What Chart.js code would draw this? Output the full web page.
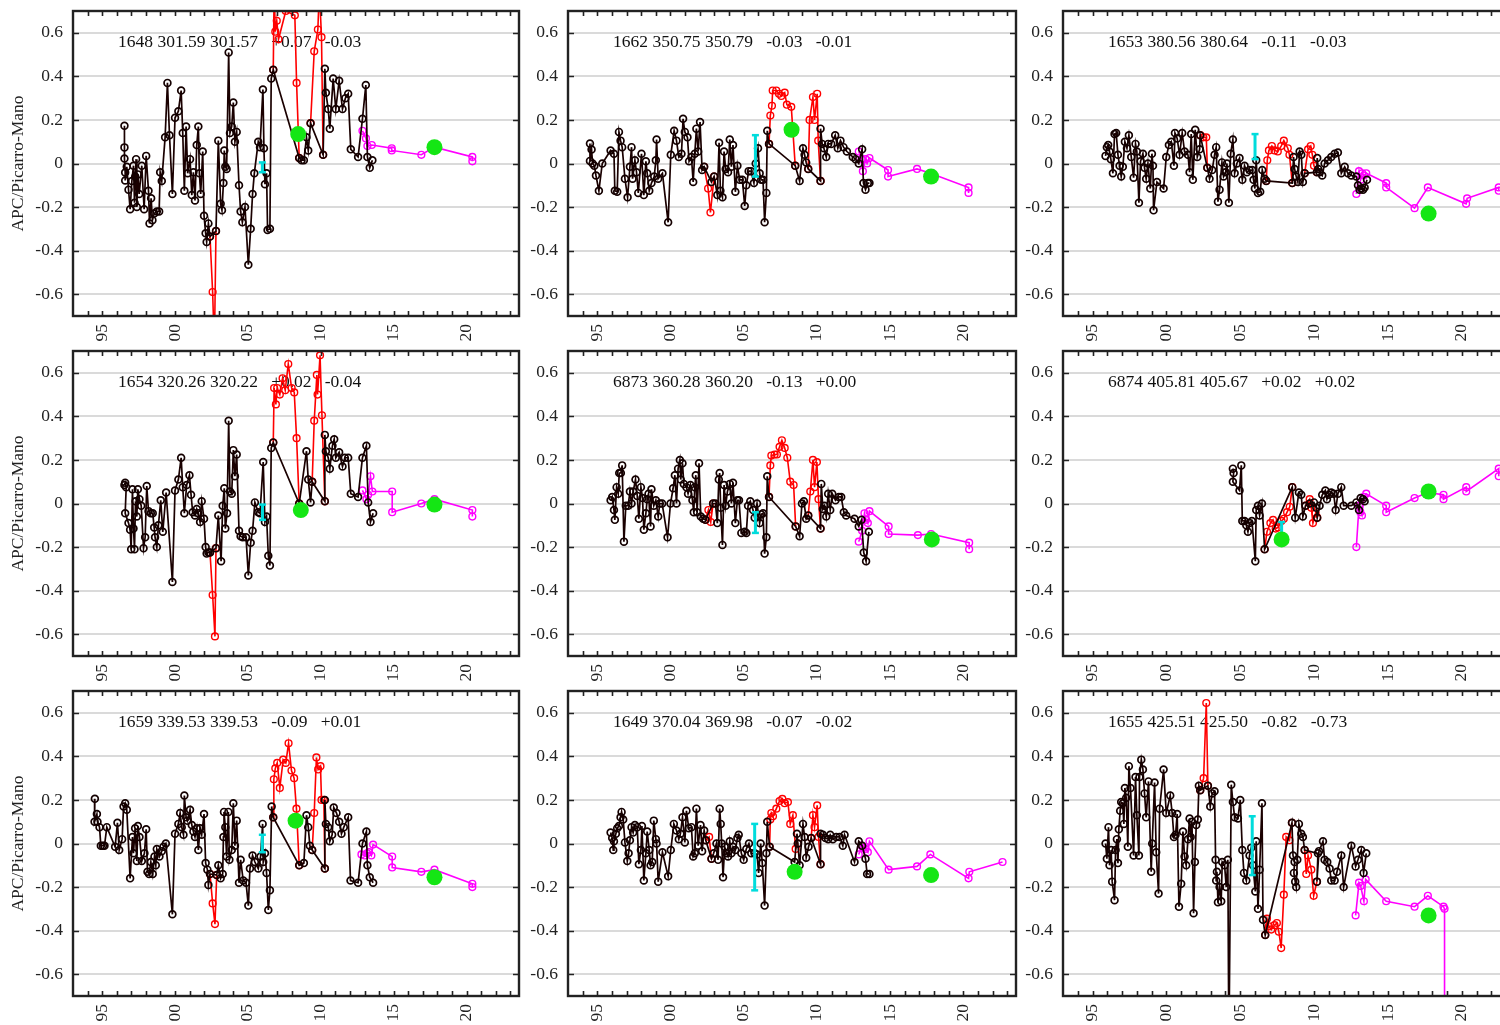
<!DOCTYPE html>
<html>
<head>
<meta charset="utf-8">
<script src="https://cdn.jsdelivr.net/npm/chart.js@4.4.1/dist/chart.umd.min.js"></script>
<style>
  html, body { margin: 0; padding: 0; background: #fff; width: 1500px; height: 1025px; overflow: hidden; position: relative; }
  canvas { position: absolute; }
</style>
</head>
<body>
<script>
// Ejes comunes a los nueve paneles
const xLabelYears = [1995, 2000, 2005, 2010, 2015, 2020];
const yTicks = [-0.6, -0.4, -0.2, 0, 0.2, 0.4, 0.6];
const yTitle = 'APC/Picarro-Mano';

/* 1648 */
const lbl1648 = '1648 301.59 301.57   +0.07   -0.03';
const blk1648 = [[1996.53,0.173],[1996.53,0.074],[1996.53,0.023],[1996.58,-0.041],[1996.58,-0.078],[1996.69,-0.015],[1996.81,-0.12],[1996.92,-0.21],[1997.04,-0.08],[1997.15,-0.01],[1997.22,-0.18],[1997.27,-0.06],[1997.33,0.02],[1997.38,-0.2],[1997.45,-0.05],[1997.54,-0.14],[1997.72,-0.01],[1997.88,-0.21],[1998.02,0.035],[1998.18,-0.125],[1998.25,-0.275],[1998.36,-0.16],[1998.45,-0.26],[1998.57,-0.23],[1998.75,-0.22],[1998.91,-0.22],[1998.98,-0.04],[1999.09,-0.08],[1999.32,0.12],[1999.48,0.37],[1999.62,0.13],[1999.82,-0.14],[2000.0,0.21],[2000.23,0.24],[2000.42,0.335],[2000.53,0.14],[2000.64,-0.125],[2000.76,0.17],[2000.87,-0.045],[2001.03,0.02],[2001.15,-0.145],[2001.26,-0.04],[2001.37,-0.17],[2001.49,0.085],[2001.6,0.17],[2001.67,-0.045],[2001.76,-0.14],[2001.9,0.055],[2001.99,-0.24],[2002.1,-0.32],[2002.17,-0.36],[2002.29,-0.275],[2002.4,-0.335],[2002.81,-0.31],[2002.97,0.105],[2003.13,-0.185],[2003.22,-0.215],[2003.32,-0.09],[2003.38,0.06],[2003.45,-0.015],[2003.54,-0.025],[2003.68,0.51],[2003.77,0.14],[2003.89,0.17],[2004.0,0.28],[2004.11,0.1],[2004.23,0.145],[2004.39,-0.1],[2004.5,-0.22],[2004.62,-0.27],[2004.8,-0.2],[2005.03,-0.465],[2005.19,-0.3],[2005.32,-0.14],[2005.44,-0.045],[2005.71,0.1],[2005.83,0.075],[2006.03,0.34],[2006.1,0.07],[2006.17,-0.095],[2006.28,-0.045],[2006.35,-0.305],[2006.51,-0.3],[2006.6,0.39],[2006.74,0.43],[2008.52,0.025],[2008.68,0.015],[2008.84,0.015],[2009.02,0.12],[2009.14,0.06],[2009.3,0.185],[2010.16,0.04],[2010.28,0.435],[2010.35,0.325],[2010.51,0.25],[2010.62,0.16],[2010.85,0.39],[2011.03,0.25],[2011.26,0.38],[2011.49,0.25],[2011.69,0.3],[2011.88,0.32],[2012.06,0.065],[2012.56,0.03],[2012.86,0.205],[2013.09,0.36],[2013.2,0.03],[2013.36,-0.02],[2013.54,0.015]];
const red1648 = [[2002.4,-0.335],[2002.58,-0.59],[2002.7,-0.85],[2002.81,-0.31],null,[2006.74,0.43],[2006.8,0.8],[2006.88,0.605],[2006.98,0.655],[2007.1,0.57],[2007.6,0.7],[2008.22,0.68],[2008.34,0.37],[2008.52,0.025],null,[2009.3,0.185],[2009.55,0.515],[2009.8,0.615],[2009.9,0.8],[2010.05,0.58],[2010.16,0.04]];
const mag1648 = [[2012.86,0.15],[2013.1,0.115],[2013.2,0.08],[2013.5,0.085],[2014.87,0.07],[2014.87,0.06],[2016.9,0.04],[2017.8,0.075],[2020.4,0.03],[2020.4,0.01]];
const grn1648 = [[2008.45,0.135],[2017.8,0.075]];
const err1648 = [2005.99, -0.04, 0.005];

/* 1654 */
const lbl1654 = '1654 320.26 320.22   +0.02   -0.04';
const blk1654 = [[1996.53,0.085],[1996.58,0.095],[1996.65,0.075],[1996.58,-0.045],[1996.81,-0.09],[1996.92,-0.12],[1996.99,-0.21],[1997.08,0.065],[1997.15,-0.115],[1997.22,-0.21],[1997.29,0.01],[1997.38,-0.06],[1997.45,0.065],[1997.56,0.02],[1997.68,-0.01],[1997.84,-0.205],[1997.95,-0.155],[1998.06,0.08],[1998.18,-0.035],[1998.34,-0.045],[1998.47,-0.045],[1998.57,-0.11],[1998.63,-0.155],[1998.75,-0.2],[1998.86,-0.1],[1999.02,0.015],[1999.16,-0.13],[1999.39,0.05],[1999.82,-0.36],[2000.0,0.06],[2000.23,0.11],[2000.42,0.21],[2000.53,0.075],[2000.64,-0.045],[2000.8,0.085],[2000.99,0.13],[2001.1,0.04],[2001.21,-0.04],[2001.37,-0.055],[2001.49,-0.025],[2001.6,-0.045],[2001.72,-0.085],[2001.83,0.01],[2001.99,-0.07],[2002.1,-0.2],[2002.17,-0.23],[2002.29,-0.225],[2002.4,-0.225],[2002.81,-0.205],[2002.97,-0.055],[2003.16,-0.265],[2003.27,-0.01],[2003.38,0.07],[2003.45,-0.115],[2003.57,-0.045],[2003.68,0.38],[2003.77,0.055],[2003.89,0.045],[2004.0,0.245],[2004.11,0.125],[2004.23,0.225],[2004.39,-0.125],[2004.5,-0.15],[2004.64,-0.155],[2004.87,-0.155],[2005.03,-0.33],[2005.19,-0.18],[2005.32,-0.125],[2005.48,0.005],[2005.71,-0.04],[2005.83,-0.045],[2006.05,0.19],[2006.17,-0.085],[2006.28,-0.06],[2006.4,-0.24],[2006.51,-0.285],[2006.6,0.255],[2006.74,0.28],[2008.52,0.0],[2009.02,0.24],[2009.14,0.11],[2009.3,0.005],[2009.41,0.1],[2010.28,0.01],[2010.28,0.315],[2010.35,0.24],[2010.51,0.21],[2010.62,0.16],[2010.8,0.265],[2010.92,0.295],[2011.03,0.21],[2011.26,0.235],[2011.49,0.17],[2011.65,0.21],[2011.88,0.21],[2012.06,0.045],[2012.56,0.03],[2012.86,0.21],[2013.13,0.265],[2013.25,0.005],[2013.41,-0.085],[2013.59,-0.045]];
const red1654 = [[2002.4,-0.225],[2002.58,-0.42],[2002.74,-0.61],[2002.81,-0.205],null,[2006.74,0.28],[2006.8,0.53],[2006.92,0.455],[2007.01,0.53],[2007.19,0.5],[2007.38,0.575],[2007.56,0.52],[2007.77,0.64],[2008.0,0.53],[2008.18,0.51],[2008.34,0.3],[2008.52,0.0],null,[2009.41,0.1],[2009.55,0.38],[2009.73,0.59],[2009.78,0.5],[2009.95,0.68],[2010.08,0.405],[2010.28,0.01]];
const mag1654 = [[2012.86,0.06],[2013.13,0.02],[2013.25,0.04],[2013.41,0.125],[2013.54,0.055],[2014.9,0.055],[2014.9,-0.04],[2016.9,0.0],[2017.8,0.02],[2020.4,-0.03],[2020.4,-0.06]];
const grn1654 = [[2008.63,-0.03],[2017.8,-0.005]];
const err1654 = [2006.0, -0.075, -0.005];

/* 1659 */
const lbl1659 = '1659 339.53 339.53   -0.09   +0.01';
const blk1659 = [[1994.5,0.205],[1994.48,0.1],[1994.64,0.135],[1994.68,0.1],[1994.82,0.075],[1994.91,-0.01],[1995.05,-0.01],[1995.16,-0.01],[1995.32,0.075],[1995.89,-0.015],[1996.05,0.095],[1996.17,-0.03],[1996.37,0.02],[1996.47,0.17],[1996.58,0.185],[1996.69,0.155],[1996.92,-0.16],[1997.08,0.03],[1997.15,-0.045],[1997.26,0.07],[1997.38,-0.08],[1997.45,0.08],[1997.56,0.03],[1997.72,-0.08],[1997.9,-0.045],[1998.02,0.065],[1998.11,-0.13],[1998.22,-0.14],[1998.34,-0.085],[1998.47,-0.14],[1998.59,-0.06],[1998.68,-0.1],[1998.75,-0.025],[1998.93,-0.06],[1999.09,-0.035],[1999.21,-0.015],[1999.37,0],[1999.82,-0.325],[2000.0,0.045],[2000.23,0.09],[2000.35,0.14],[2000.46,0.075],[2000.58,0.04],[2000.64,0.22],[2000.76,0.12],[2000.85,0.105],[2001.03,0.155],[2001.15,0.085],[2001.26,0.055],[2001.37,0.03],[2001.49,0.07],[2001.6,-0.03],[2001.72,0.07],[2001.83,0.04],[2001.99,0.135],[2002.1,-0.09],[2002.22,-0.12],[2002.29,-0.19],[2002.4,-0.14],[2002.86,-0.145],[2002.97,-0.1],[2003.13,-0.16],[2003.27,-0.14],[2003.32,0.03],[2003.36,0.145],[2003.45,0.075],[2003.54,-0.06],[2003.66,0.145],[2003.73,-0.075],[2003.89,-0.03],[2004.0,0.185],[2004.11,-0.01],[2004.23,0.105],[2004.39,-0.18],[2004.5,-0.075],[2004.68,-0.17],[2004.87,-0.18],[2005.03,-0.285],[2005.14,-0.115],[2005.32,-0.055],[2005.48,-0.085],[2005.71,-0.115],[2005.87,-0.06],[2006.01,0.09],[2006.05,-0.085],[2006.17,-0.045],[2006.28,-0.135],[2006.4,-0.305],[2006.51,-0.215],[2006.63,0.17],[2006.74,0.12],[2008.52,-0.1],[2008.84,-0.09],[2009.02,0.13],[2009.14,0.075],[2009.25,-0.01],[2009.41,-0.03],[2010.28,-0.115],[2010.28,0.2],[2010.35,0.09],[2010.51,0.075],[2010.62,0.01],[2010.78,0.04],[2010.89,0.165],[2011.08,0.14],[2011.26,0.1],[2011.42,0.045],[2011.58,0.075],[2011.88,0.12],[2012.04,-0.17],[2012.56,-0.18],[2012.86,0],[2013.13,0.055],[2013.2,-0.1],[2013.36,-0.155],[2013.59,-0.18]];
const red1659 = [[2002.4,-0.14],[2002.58,-0.275],[2002.74,-0.37],[2002.86,-0.145],null,[2006.74,0.12],[2006.78,0.295],[2006.88,0.345],[2007.01,0.37],[2007.19,0.255],[2007.42,0.385],[2007.6,0.37],[2007.79,0.46],[2007.99,0.335],[2008.17,0.3],[2008.33,0.16],[2008.52,-0.1],null,[2009.41,-0.03],[2009.55,0.14],[2009.7,0.395],[2009.82,0.34],[2009.98,0.355],[2010.05,0.2],[2010.21,0.2],[2010.28,-0.115]];
const mag1659 = [[2012.79,-0.05],[2013.02,-0.055],[2013.18,-0.045],[2013.31,-0.04],[2013.47,-0.055],[2013.59,-0.005],[2014.9,-0.06],[2014.9,-0.11],[2016.9,-0.13],[2017.8,-0.12],[2020.4,-0.185],[2020.4,-0.2]];
const grn1659 = [[2008.27,0.105],[2017.8,-0.155]];
const err1659 = [2005.99, -0.04, 0.04];

/* 1662 */
const lbl1662 = '1662 350.75 350.79   -0.03   -0.01';
const blk1662 = [[1994.5,0.092],[1994.5,0.012],[1994.61,0.064],[1994.68,0],[1994.8,-0.01],[1994.91,-0.055],[1995.11,-0.125],[1995.34,0],[1995.91,0.06],[1996.14,0.045],[1996.2,-0.125],[1996.36,-0.13],[1996.48,0.145],[1996.59,0.105],[1996.7,0.075],[1996.89,-0.07],[1997.07,-0.155],[1997.23,-0.015],[1997.34,0.075],[1997.41,-0.07],[1997.57,0.015],[1997.68,-0.04],[1997.8,-0.135],[1998.02,0.045],[1998.18,-0.145],[1998.32,0.01],[1998.41,-0.045],[1998.55,-0.125],[1998.7,-0.09],[1998.89,-0.06],[1999.0,0.015],[1999.05,0.11],[1999.16,-0.07],[1999.45,-0.045],[1999.84,-0.27],[2000.02,0.04],[2000.25,0.15],[2000.41,0.105],[2000.57,0.03],[2000.75,0.045],[2000.86,0.205],[2000.98,0.145],[2001.16,0.12],[2001.27,0.01],[2001.43,0.03],[2001.55,-0.085],[2001.66,0.045],[2001.77,0.16],[2001.89,0.055],[2002.02,0.19],[2002.16,-0.03],[2002.3,-0.015],[2002.8,-0.085],[2002.98,-0.06],[2003.2,-0.145],[2003.32,0.095],[2003.41,-0.125],[2003.55,-0.155],[2003.66,0.055],[2003.77,-0.025],[2003.93,-0.04],[2004.05,0.11],[2004.16,-0.015],[2004.27,0.085],[2004.43,-0.13],[2004.57,-0.01],[2004.73,-0.075],[2004.91,-0.075],[2005.07,-0.195],[2005.18,-0.1],[2005.34,-0.035],[2005.5,-0.035],[2005.7,-0.09],[2005.82,0],[2005.98,0.07],[2006.09,-0.045],[2006.2,-0.075],[2006.32,-0.075],[2006.43,-0.27],[2006.55,-0.135],[2006.61,0.15],[2006.73,0.09],[2008.52,-0.01],[2008.82,-0.08],[2009.05,0.07],[2009.16,0.04],[2009.27,0.005],[2009.41,-0.025],[2010.25,-0.08],[2010.25,0.16],[2010.36,0.09],[2010.48,0.07],[2010.64,0.03],[2010.77,0.09],[2010.98,0.09],[2011.25,0.13],[2011.43,0.07],[2011.61,0.105],[2011.82,0.075],[2012.05,0.055],[2012.45,0.03],[2012.64,0.02],[2012.86,0],[2013.09,0.065],[2013.18,-0.09],[2013.32,-0.12],[2013.48,-0.09],[2013.59,-0.09]];
const red1662 = [[2002.3,-0.015],[2002.57,-0.115],[2002.73,-0.225],[2002.98,-0.06],null,[2006.73,0.09],[2006.82,0.22],[2006.93,0.265],[2006.98,0.335],[2007.23,0.335],[2007.41,0.32],[2007.57,0.31],[2007.8,0.325],[2007.95,0.27],[2008.25,0.26],[2008.52,-0.01],null,[2009.41,-0.025],[2009.5,0.2],[2009.73,0.305],[2009.84,0.2],[2010.02,0.32],[2010.09,0.105],[2010.25,-0.08]];
const mag1662 = [[2012.86,0.055],[2013.05,0.02],[2013.14,-0.035],[2013.32,0.02],[2013.43,0.0],[2013.59,0.025],[2014.86,-0.03],[2014.86,-0.06],[2016.84,-0.025],[2017.75,-0.045],[2020.36,-0.11],[2020.36,-0.135]];
const grn1662 = [[2008.27,0.155],[2017.8,-0.06]];
const err1662 = [2005.8, -0.06, 0.13];

/* 6873 */
const lbl6873 = '6873 360.28 360.20   -0.13   +0.00';
const blk6873 = [[1995.91,0.015],[1996.02,0.03],[1996.14,-0.03],[1996.2,-0.075],[1996.32,0.075],[1996.43,0.045],[1996.5,0.14],[1996.61,0.14],[1996.7,0.175],[1996.82,-0.175],[1996.95,-0.01],[1997.11,-0.01],[1997.23,0.055],[1997.34,0],[1997.45,0.055],[1997.61,0.11],[1997.73,0.035],[1997.84,-0.07],[1997.98,0.075],[1998.09,0.025],[1998.18,-0.12],[1998.32,-0.045],[1998.41,0.02],[1998.5,0.045],[1998.64,-0.105],[1998.7,0.065],[1998.86,-0.01],[1999.0,0.015],[1999.16,-0.06],[1999.27,0],[1999.43,0],[1999.8,-0.155],[2000.0,0],[2000.18,0.07],[2000.3,0.13],[2000.41,0],[2000.52,0.16],[2000.64,0.2],[2000.7,0.11],[2000.82,0.185],[2000.91,0.09],[2001.09,0.075],[2001.2,0.045],[2001.36,0.085],[2001.5,0.015],[2001.59,-0.04],[2001.66,0.075],[2001.73,0.13],[2001.82,-0.04],[2001.95,0.185],[2002.07,-0.06],[2002.23,-0.07],[2002.39,-0.075],[2002.91,0],[2003.07,0],[2003.2,-0.09],[2003.3,0.11],[2003.36,0.14],[2003.43,-0.02],[2003.55,-0.19],[2003.66,0.085],[2003.77,-0.01],[2003.89,0.055],[2004.05,0.09],[2004.16,0],[2004.27,0.095],[2004.43,-0.09],[2004.57,0.015],[2004.68,0.015],[2004.84,-0.135],[2005.07,-0.13],[2005.18,-0.135],[2005.3,-0.01],[2005.45,0.01],[2005.64,-0.03],[2005.75,-0.065],[2005.91,0],[2006.09,-0.09],[2006.2,-0.05],[2006.32,-0.045],[2006.43,-0.23],[2006.55,-0.155],[2006.61,0.125],[2006.73,0.03],[2008.55,-0.105],[2008.82,-0.15],[2008.98,0],[2009.11,0.01],[2009.27,-0.07],[2009.41,-0.055],[2010.25,-0.115],[2010.3,0.09],[2010.41,-0.025],[2010.52,-0.01],[2010.64,-0.06],[2010.77,0.045],[2010.91,-0.03],[2011.05,0.045],[2011.27,0.015],[2011.5,0.03],[2011.66,0.03],[2011.84,-0.04],[2012.0,-0.055],[2012.57,-0.07],[2012.86,-0.105],[2013.05,-0.075],[2013.2,-0.225],[2013.36,-0.265],[2013.55,-0.13]];
const red6873 = [[2002.39,-0.075],[2002.59,-0.03],[2002.75,-0.085],[2002.91,0],null,[2006.73,0.03],[2006.82,0.175],[2006.89,0.22],[2007.11,0.225],[2007.27,0.225],[2007.45,0.26],[2007.61,0.29],[2007.8,0.255],[2007.98,0.21],[2008.18,0.1],[2008.41,0.085],[2008.55,-0.105],null,[2009.41,-0.055],[2009.55,0.055],[2009.73,0.2],[2009.84,0.075],[2010.0,0.19],[2010.11,0.02],[2010.25,-0.115]];
const mag6873 = [[2012.86,-0.175],[2013.09,-0.125],[2013.25,-0.045],[2013.36,-0.075],[2013.48,-0.09],[2013.59,-0.035],[2014.9,-0.105],[2014.9,-0.14],[2016.9,-0.145],[2017.8,-0.14],[2020.4,-0.18],[2020.4,-0.21]];
const grn6873 = [[2017.85,-0.165]];
const err6873 = [2005.8, -0.135, -0.04];

/* 1649 */
const lbl1649 = '1649 370.04 369.98   -0.07   -0.02';
const blk1649 = [[1995.91,0.05],[1996.02,0.025],[1996.09,-0.03],[1996.14,0.01],[1996.27,0.045],[1996.36,0.07],[1996.48,0.08],[1996.59,0.12],[1996.66,0.145],[1996.77,0.11],[1996.89,0.005],[1997.05,-0.08],[1997.14,-0.045],[1997.23,0.015],[1997.34,0.075],[1997.45,0.05],[1997.57,0.085],[1997.73,0.075],[1997.84,-0.095],[1997.98,-0.03],[1998.05,0.08],[1998.18,-0.17],[1998.32,-0.045],[1998.41,0.055],[1998.55,-0.03],[1998.64,-0.1],[1998.75,-0.085],[1998.86,0.105],[1999.0,0.02],[1999.05,0],[1999.16,-0.175],[1999.45,-0.04],[1999.84,-0.15],[2000.02,-0.03],[2000.23,0.09],[2000.41,0.06],[2000.57,0.02],[2000.68,0.045],[2000.82,0.12],[2000.98,0.005],[2001.09,0.15],[2001.25,0.07],[2001.43,0.075],[2001.55,-0.06],[2001.66,-0.045],[2001.77,0.16],[2001.89,-0.01],[2002.05,0.085],[2002.16,-0.035],[2002.3,0.06],[2002.41,0.015],[2002.8,-0.07],[2002.95,-0.045],[2003.14,0],[2003.25,-0.075],[2003.36,0.16],[2003.43,0.09],[2003.5,0],[2003.59,-0.155],[2003.7,-0.015],[2003.82,-0.045],[2003.93,-0.06],[2004.05,0.01],[2004.16,-0.045],[2004.27,-0.015],[2004.43,-0.03],[2004.57,0.025],[2004.66,0.04],[2004.84,-0.045],[2005.0,-0.075],[2005.18,-0.025],[2005.36,0],[2005.52,-0.045],[2005.75,-0.045],[2005.91,-0.05],[2006.02,-0.135],[2006.16,0],[2006.27,-0.09],[2006.43,-0.285],[2006.55,-0.045],[2006.61,0.1],[2006.77,-0.015],[2008.48,-0.085],[2008.64,0.045],[2008.7,0],[2008.82,-0.1],[2009.05,0.09],[2009.16,0.03],[2009.27,-0.065],[2009.43,-0.015],[2009.61,0.025],[2010.25,-0.095],[2010.25,0.045],[2010.41,0.04],[2010.59,0.025],[2010.77,0.02],[2010.91,0.04],[2011.09,0.02],[2011.32,0.03],[2011.55,0.03],[2011.77,-0.01],[2011.89,0.04],[2012.57,-0.085],[2012.86,0.01],[2013.09,-0.01],[2013.32,-0.07],[2013.43,-0.14],[2013.59,-0.14]];
const red1649 = [[2002.41,0.015],[2002.64,0.03],[2002.8,-0.07],null,[2006.77,-0.015],[2006.82,0.11],[2006.89,0.14],[2007.0,0.125],[2007.23,0.16],[2007.45,0.195],[2007.64,0.205],[2007.8,0.185],[2008.02,0.19],[2008.18,0.09],[2008.36,0.13],[2008.55,-0.025],[2008.7,0],null,[2009.61,0.025],[2009.73,0.13],[2009.84,0.075],[2010.02,0.175],[2010.11,0.03],[2010.25,-0.095]];
const mag1649 = [[2012.86,-0.05],[2013.05,-0.01],[2013.18,-0.02],[2013.32,-0.025],[2013.48,-0.04],[2013.59,0.01],[2014.9,-0.12],[2016.84,-0.105],[2017.75,-0.05],[2020.36,-0.16],[2020.41,-0.13],[2022.68,-0.085]];
const grn1649 = [[2008.48,-0.13],[2017.8,-0.145]];
const err1649 = [2005.75, -0.215, 0.09];

/* 1653 */
const lbl1653 = '1653 380.56 380.64   -0.11   -0.03';
const blk1653 = [[1995.88,0.035],[1995.97,0.075],[1996.06,0.085],[1996.15,0.055],[1996.24,0.02],[1996.38,-0.045],[1996.49,0.135],[1996.6,0.14],[1996.72,0.04],[1996.83,-0.01],[1996.94,-0.06],[1997.05,-0.015],[1997.19,0.1],[1997.33,0.07],[1997.46,0.13],[1997.62,0.03],[1997.78,-0.065],[1997.91,0.09],[1998.0,0.055],[1998.14,-0.18],[1998.25,0.01],[1998.41,0.045],[1998.52,-0.02],[1998.63,-0.07],[1998.75,0],[1998.91,-0.115],[1999.02,0.045],[1999.09,-0.01],[1999.13,-0.215],[1999.36,-0.085],[1999.81,-0.115],[1999.99,0.03],[2000.17,0.085],[2000.33,0.1],[2000.51,-0.01],[2000.58,0.14],[2000.73,0.115],[2000.89,0.04],[2001.07,0.14],[2001.23,0.055],[2001.46,0.04],[2001.57,-0.04],[2001.68,0.135],[2001.79,-0.075],[2001.95,0.155],[2002.09,0.03],[2002.25,0.065],[2002.29,0.13],[2002.77,-0.02],[2002.92,-0.07],[2003.1,-0.03],[2003.26,0.04],[2003.37,0.075],[2003.49,-0.175],[2003.6,-0.12],[2003.76,0.005],[2003.87,-0.06],[2004.01,-0.04],[2004.1,0],[2004.23,-0.18],[2004.35,0.045],[2004.5,0.11],[2004.62,-0.045],[2004.77,0],[2004.95,0.025],[2005.14,-0.075],[2005.29,-0.01],[2005.45,-0.04],[2005.63,-0.03],[2005.81,-0.03],[2005.9,-0.075],[2005.99,-0.115],[2006.08,0.015],[2006.2,-0.135],[2006.35,-0.13],[2006.49,-0.03],[2006.65,-0.07],[2006.76,-0.08],[2008.52,-0.09],[2008.61,0.03],[2008.68,-0.025],[2008.79,-0.06],[2008.9,-0.085],[2009.02,0.055],[2009.13,0.04],[2009.24,-0.085],[2009.36,-0.045],[2010.19,-0.04],[2010.21,0.025],[2010.28,-0.025],[2010.37,-0.04],[2010.55,-0.055],[2010.71,0],[2010.94,0.015],[2011.16,0.03],[2011.39,0.045],[2011.61,0.05],[2011.84,-0.045],[2012.07,-0.015],[2012.29,-0.045],[2012.52,-0.055],[2012.86,-0.06],[2012.97,-0.1],[2013.08,-0.12],[2013.19,-0.115],[2013.31,-0.12],[2013.42,-0.11],[2013.58,-0.075]];
const red1653 = [[2002.29,0.13],[2002.5,0.12],[2002.7,0.12],[2002.77,-0.02],null,[2006.76,-0.08],[2006.83,0.015],[2006.94,0.06],[2007.14,0.08],[2007.32,0.06],[2007.54,0.055],[2007.77,0.08],[2007.95,0.105],[2008.22,0.07],[2008.33,0.04],[2008.52,-0.09],null,[2009.36,-0.045],[2009.59,0.065],[2009.77,0.08],[2009.88,0.04],[2009.99,-0.01],[2010.19,-0.04]];
const mag1653 = [[2012.86,-0.14],[2013.04,-0.035],[2013.15,-0.075],[2013.26,-0.045],[2013.37,-0.055],[2013.53,-0.045],[2014.88,-0.09],[2014.88,-0.11],[2016.8,-0.205],[2017.7,-0.11],[2020.29,-0.185],[2020.36,-0.16],[2022.5,-0.11],[2022.5,-0.125]];
const grn1653 = [[2017.75,-0.23]];
const err1653 = [2006.0, 0.02, 0.135];

/* 6874 */
const lbl6874 = '6874 405.81 405.67   +0.02   +0.02';
const blk6874 = [[2004.5,0.16],[2004.55,0.14],[2004.5,0.1],[2004.95,0.06],[2005.07,0.175],[2005.14,-0.08],[2005.29,-0.08],[2005.41,-0.1],[2005.52,-0.13],[2005.63,-0.09],[2005.79,-0.08],[2006.02,-0.265],[2006.08,-0.03],[2006.2,-0.01],[2006.31,-0.055],[2006.47,0],[2006.65,-0.21],[2008.52,0.075],[2008.72,-0.065],[2008.97,0.05],[2009.13,0.04],[2009.24,-0.06],[2009.42,-0.01],[2009.7,0],[2009.99,0.005],[2010.15,-0.02],[2010.21,-0.065],[2010.37,-0.01],[2010.55,0.04],[2010.76,0.06],[2010.87,0.02],[2011.0,0.04],[2011.16,0.05],[2011.32,0.045],[2011.46,-0.03],[2011.61,0.045],[2011.84,0.075],[2012.0,-0.01],[2012.52,-0.01],[2012.86,0.005],[2013.04,-0.03],[2013.15,0.025],[2013.31,0.02],[2013.42,0.01]];
const red6874 = [[2006.65,-0.21],[2006.81,-0.13],[2007.04,-0.09],[2007.22,-0.075],[2007.4,-0.115],[2007.56,-0.11],[2007.79,-0.08],[2007.95,-0.07],[2008.17,-0.04],[2008.35,-0.015],[2008.52,0.075],null,[2009.42,-0.01],[2009.7,0.02],[2009.81,-0.02],[2009.92,-0.09],[2010.1,-0.045],[2010.21,-0.065]];
const mag6874 = [[2012.86,-0.2],[2013.04,-0.01],[2013.13,-0.04],[2013.24,-0.055],[2013.37,0.03],[2013.53,0.045],[2014.88,-0.01],[2014.88,-0.04],[2016.8,0.025],[2017.7,0.05],[2018.76,0.04],[2018.76,0.02],[2020.3,0.075],[2020.3,0.055],[2022.5,0.16],[2022.5,0.125]];
const grn6874 = [[2007.8,-0.165],[2017.75,0.055]];
const err6874 = [2007.8, -0.19, -0.085];

/* 1655 */
const lbl1655 = '1655 425.51 425.50   -0.82   -0.73';
const blk1655 = [[1995.88,0],[1995.97,-0.07],[1996.08,0.075],[1996.15,-0.1],[1996.26,-0.03],[1996.33,-0.175],[1996.49,-0.26],[1996.56,-0.03],[1996.65,0.02],[1996.72,-0.09],[1996.78,0.065],[1996.87,0.15],[1996.94,0.19],[1997.05,0.185],[1997.12,0.09],[1997.19,0.255],[1997.28,0.21],[1997.39,-0.015],[1997.46,0.355],[1997.57,0.255],[1997.78,-0.055],[1997.91,0.305],[1998.0,0.13],[1998.14,-0.055],[1998.18,0.305],[1998.3,0.385],[1998.41,0.34],[1998.52,0.23],[1998.63,0.12],[1998.79,0.285],[1998.97,-0.13],[1999.04,0],[1999.2,0.28],[1999.31,-0.04],[1999.47,-0.23],[1999.54,0.16],[1999.81,0.34],[1999.99,0.14],[2000.26,0.22],[2000.39,0.14],[2000.51,0.03],[2000.62,0.04],[2000.73,0.135],[2000.85,-0.29],[2001.0,-0.185],[2001.12,0.055],[2001.23,-0.06],[2001.34,-0.1],[2001.46,0.02],[2001.57,0.115],[2001.64,0.03],[2001.73,0.1],[2001.84,-0.32],[2001.93,-0.085],[2002.02,0.085],[2002.13,0.11],[2002.2,0.265],[2002.29,0.245],[2002.81,0.265],[2002.97,0.17],[2003.1,0.23],[2003.26,0.24],[2003.33,-0.075],[2003.37,-0.17],[2003.42,-0.13],[2003.49,-0.27],[2003.6,-0.2],[2003.71,-0.265],[2003.78,-0.085],[2003.94,-0.1],[2004.05,-0.2],[2004.16,-0.075],[2004.23,-0.95],[2004.39,0.27],[2004.5,0.19],[2004.62,0.12],[2004.84,0.115],[2005.0,0.2],[2005.14,-0.03],[2005.25,-0.135],[2005.41,-0.17],[2005.63,-0.055],[2005.74,-0.02],[2005.86,-0.1],[2006.02,-0.22],[2006.08,0.01],[2006.2,-0.3],[2006.31,-0.12],[2006.47,0.185],[2006.54,-0.35],[2006.69,-0.42],[2008.5,0.095],[2008.57,-0.055],[2008.68,-0.085],[2008.63,-0.135],[2008.72,-0.175],[2008.79,-0.2],[2008.86,-0.075],[2008.97,0.09],[2009.13,0.045],[2009.24,0.03],[2009.36,-0.03],[2010.26,-0.045],[2010.19,-0.175],[2010.33,-0.035],[2010.6,0.01],[2010.71,-0.075],[2010.89,-0.085],[2011.05,-0.115],[2011.16,-0.17],[2011.39,-0.17],[2011.55,-0.13],[2011.84,-0.055],[2012.0,-0.2],[2012.52,-0.01],[2012.81,-0.105],[2012.97,-0.075],[2013.19,-0.03],[2013.35,-0.135],[2013.53,-0.045]];
const red1655 = [[2002.29,0.245],[2002.52,0.3],[2002.7,0.645],[2002.81,0.265],null,[2006.69,-0.42],[2006.81,-0.345],[2006.94,-0.38],[2007.1,-0.395],[2007.32,-0.375],[2007.48,-0.365],[2007.61,-0.405],[2007.77,-0.48],[2007.95,-0.235],[2008.11,0.03],[2008.33,0.015],[2008.5,0.095],null,[2009.36,-0.03],[2009.47,-0.14],[2009.59,-0.055],[2009.81,-0.12],[2009.97,-0.24],[2010.19,-0.175]];
const mag1655 = [[2012.81,-0.33],[2013.04,-0.18],[2013.15,-0.195],[2013.37,-0.265],[2013.49,-0.165],[2014.88,-0.265],[2016.8,-0.29],[2017.7,-0.24],[2018.76,-0.29],[2018.83,-0.3],[2018.83,-0.95]];
const grn1655 = [[2017.75,-0.33]];
const err1655 = [2005.81, -0.145, 0.125];

// Geometria de la rejilla 3x3 (orden por columnas, como en la figura)
const COL_X = [73, 568, 1063];
const COL_W = [446, 448, 452];
const ROW_Y = [11, 351, 691];
const PH = 305;
const Y_W = 73, TOP = 11, BOT = 34, RIGHT = 14;
const SERIF = 'Liberation Serif';
const FONT_PX = 17.5;

const panels = [
  { lbl: lbl1648, blk: blk1648, red: red1648, mag: mag1648, grn: grn1648, err: err1648 },
  { lbl: lbl1654, blk: blk1654, red: red1654, mag: mag1654, grn: grn1654, err: err1654 },
  { lbl: lbl1659, blk: blk1659, red: red1659, mag: mag1659, grn: grn1659, err: err1659 },
  { lbl: lbl1662, blk: blk1662, red: red1662, mag: mag1662, grn: grn1662, err: err1662 },
  { lbl: lbl6873, blk: blk6873, red: red6873, mag: mag6873, grn: grn6873, err: err6873 },
  { lbl: lbl1649, blk: blk1649, red: red1649, mag: mag1649, grn: grn1649, err: err1649 },
  { lbl: lbl1653, blk: blk1653, red: red1653, mag: mag1653, grn: grn1653, err: err1653 },
  { lbl: lbl6874, blk: blk6874, red: red6874, mag: mag6874, grn: grn6874, err: err6874 },
  { lbl: lbl1655, blk: blk1655, red: red1655, mag: mag1655, grn: grn1655, err: err1655 }
];

// Marcas menores del eje x: una por anio
const minorYears = [];
for (let y = 1994; y <= 2023; y++) minorYears.push(y);

// Convierte pares [x, y] en puntos; null corta la linea
function toPoints(arr) {
  return arr.map((p, i) => p ? { x: p[0], y: p[1] } : { x: arr[i - 1][0], y: null });
}

// Texto del panel y marco con marcas hacia dentro
function panelPlugin(label) {
  return {
    id: 'panelDeco',
    beforeDatasetsDraw(chart) {
      const a = chart.chartArea, ctx = chart.ctx;
      ctx.save();
      ctx.font = FONT_PX + 'px "' + SERIF + '"';
      ctx.fillStyle = '#111';
      ctx.textBaseline = 'middle';
      ctx.textAlign = 'left';
      ctx.fillText(label, a.left + 45, a.top + 31);
      ctx.restore();
    },
    afterDraw(chart) {
      const a = chart.chartArea, ctx = chart.ctx;
      const xs = chart.scales.x, ys = chart.scales.y;
      ctx.save();
      ctx.strokeStyle = '#222';
      ctx.lineWidth = 1.6;
      ctx.beginPath();
      minorYears.forEach(yr => {
        const px = Math.round(xs.getPixelForValue(yr)) + 0.5;
        if (px <= a.left + 1 || px >= a.right - 1) return;
        ctx.moveTo(px, a.bottom); ctx.lineTo(px, a.bottom - 5);
        ctx.moveTo(px, a.top); ctx.lineTo(px, a.top + 5);
      });
      yTicks.forEach(v => {
        const py = Math.round(ys.getPixelForValue(v)) + 0.5;
        ctx.moveTo(a.left, py); ctx.lineTo(a.left + 6, py);
        ctx.moveTo(a.right, py); ctx.lineTo(a.right - 6, py);
      });
      ctx.stroke();
      ctx.lineWidth = 2.4;
      ctx.strokeRect(a.left, a.top, a.right - a.left, a.bottom - a.top);
      ctx.restore();
    }
  };
}

function makePanel(p, col, row) {
  const cw = Y_W + COL_W[col] + RIGHT, ch = TOP + PH + BOT;
  const cv = document.createElement('canvas');
  cv.width = cw; cv.height = ch;
  cv.style.width = cw + 'px'; cv.style.height = ch + 'px';
  cv.style.left = (COL_X[col] - Y_W) + 'px';
  cv.style.top = (ROW_Y[row] - TOP) + 'px';
  document.body.appendChild(cv);

  const errPts = [{ x: p.err[0], y: p.err[1] }, { x: p.err[0], y: p.err[2] }];

  new Chart(cv, {
    type: 'line',
    data: {
      datasets: [
        { data: toPoints(p.grn), showLine: false, pointRadius: 8, pointBorderWidth: 0,
          pointBackgroundColor: '#14e614', pointBorderColor: '#14e614' },
        { data: errPts, borderColor: '#00dcdc', borderWidth: 3, pointStyle: 'line',
          pointRadius: 3.5, pointBorderWidth: 2.5, pointBorderColor: '#00dcdc' },
        { data: toPoints(p.blk), borderColor: '#1a0000', borderWidth: 1.7, pointRadius: 3.4,
          pointBorderWidth: 1.7, pointBorderColor: '#140000', pointBackgroundColor: 'rgba(0,0,0,0)' },
        { data: toPoints(p.red), borderColor: '#ff0000', borderWidth: 1.6, pointRadius: 3.4,
          pointBorderWidth: 1.4, pointBorderColor: '#ff0000', pointBackgroundColor: 'rgba(0,0,0,0)', spanGaps: false },
        { data: toPoints(p.mag), borderColor: '#ff00ff', borderWidth: 1.6, pointRadius: 3.4,
          pointBorderWidth: 1.4, pointBorderColor: '#ff00ff', pointBackgroundColor: 'rgba(0,0,0,0)' }
      ]
    },
    options: {
      responsive: false,
      animation: false,
      devicePixelRatio: 1,
      events: [],
      elements: { line: { tension: 0 } },
      layout: { padding: { top: TOP, left: 0, right: RIGHT, bottom: 0 } },
      plugins: { legend: { display: false }, tooltip: { enabled: false } },
      scales: {
        x: {
          type: 'linear', min: 1993, max: 2023.6,
          afterBuildTicks: s => { s.ticks = minorYears.map(v => ({ value: v })); },
          afterFit: s => { s.height = BOT; s.paddingLeft = 0; s.paddingRight = 0; },
          grid: { display: false, drawTicks: false },
          border: { display: false },
          ticks: {
            autoSkip: false, minRotation: 90, maxRotation: 90, padding: 8,
            color: '#222', font: { family: SERIF, size: FONT_PX },
            callback: v => xLabelYears.includes(v) ? String(v % 100).padStart(2, '0') : ''
          }
        },
        y: {
          min: -0.7, max: 0.7,
          afterBuildTicks: s => { s.ticks = yTicks.map(v => ({ value: v })); },
          afterFit: s => { s.width = Y_W; s.paddingTop = 0; s.paddingBottom = 0; },
          grid: { color: '#dadada', lineWidth: 2, drawTicks: false },
          border: { display: false },
          ticks: {
            padding: 10, color: '#222', font: { family: SERIF, size: FONT_PX },
            callback: v => v === 0 ? '0' : v.toFixed(1)
          },
          title: {
            display: col === 0, text: yTitle, color: '#222',
            font: { family: SERIF, size: FONT_PX }, padding: { top: 8, bottom: 0 }
          }
        }
      }
    },
    plugins: [panelPlugin(p.lbl)]
  });
}

panels.forEach((p, i) => makePanel(p, Math.floor(i / 3), i % 3));
</script>
</body>
</html>
